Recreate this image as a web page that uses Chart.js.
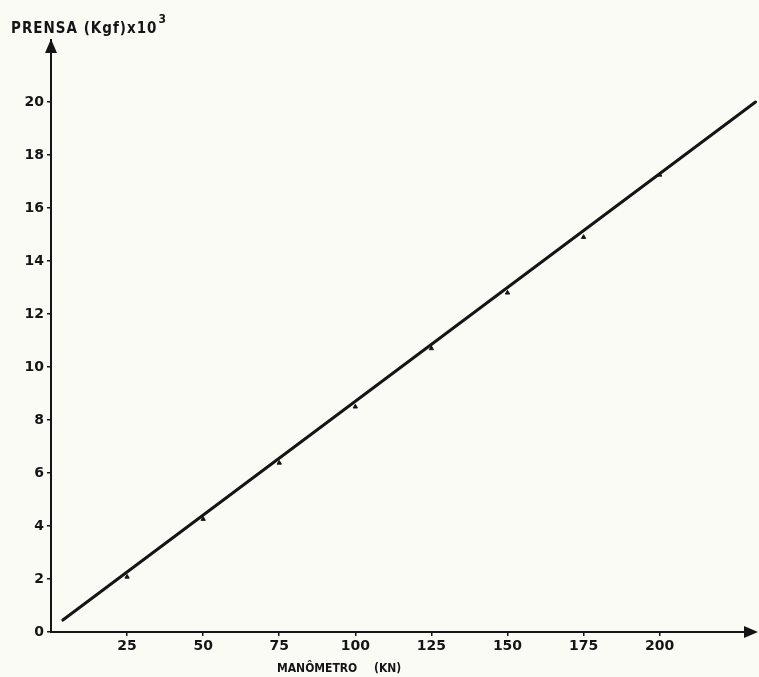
<!DOCTYPE html>
<html>
<head>
<meta charset="utf-8">
<script src="https://cdn.jsdelivr.net/npm/chart.js@4/dist/chart.umd.min.js"></script>
<style>
  html, body { margin: 0; padding: 0; background: #fbfbf6; }
  #wrap { width: 759px; height: 677px; position: relative; }
</style>
</head>
<body>
<div id="wrap"><canvas id="c" width="759" height="677"></canvas></div>
<script>
// Calibration: press reading vs. manometer reading
const xTickValues = [25, 50, 75, 100, 125, 150, 175, 200];
const yTickValues = [0, 2, 4, 6, 8, 10, 12, 14, 16, 18, 20];

// measured points (manometer kN, press kgf x 10^3)
const manometro = [25, 50, 75, 100, 125, 150, 175, 200];
const prensa    = [2.08, 4.26, 6.38, 8.5, 10.7, 12.8, 14.9, 17.25];

// fitted calibration line end points
const fitX = [3.9, 231.5];
const fitY = [0.45, 20.0];

const X_MAX = 231;
const Y_MAX = 22.34;
const INK = '#151515';
const TITLE_FAMILY = '"DejaVu Sans Condensed", "Liberation Sans Narrow", "DejaVu Sans", sans-serif';

const axisArrows = {
  id: 'axisArrows',
  afterDraw(chart) {
    const { ctx, chartArea: a } = chart;
    const tipX = chart.width - 1;
    ctx.save();
    ctx.strokeStyle = INK;
    ctx.fillStyle = INK;
    ctx.lineWidth = 2;
    // horizontal axis runs on to the arrow tip
    ctx.beginPath();
    ctx.moveTo(a.right - 1, a.bottom);
    ctx.lineTo(tipX - 6, a.bottom);
    ctx.stroke();
    ctx.beginPath();
    ctx.moveTo(tipX, a.bottom);
    ctx.lineTo(tipX - 14, a.bottom - 6);
    ctx.lineTo(tipX - 14, a.bottom + 6);
    ctx.closePath();
    ctx.fill();
    // arrow on the vertical axis
    ctx.beginPath();
    ctx.moveTo(a.left, a.top - 1);
    ctx.lineTo(a.left - 6, a.top + 13);
    ctx.lineTo(a.left + 6, a.top + 13);
    ctx.closePath();
    ctx.fill();

    // axis titles
    ctx.textBaseline = 'alphabetic';
    ctx.textAlign = 'left';
    ctx.font = 'bold 15px ' + TITLE_FAMILY;
    if ('letterSpacing' in ctx) ctx.letterSpacing = '1px';
    const t = 'PRENSA (Kgf)x10';
    ctx.fillText(t, 11, 33);
    const w = ctx.measureText(t).width;
    ctx.font = 'bold 12px ' + TITLE_FAMILY;
    ctx.fillText('3', 11 + w + 1, 23);

    ctx.font = 'bold 12px ' + TITLE_FAMILY;
    if ('letterSpacing' in ctx) ctx.letterSpacing = '0px';
    ctx.fillText('MANÔMETRO', 277, 672);
    ctx.fillText('(KN)', 374, 672);
    ctx.restore();
  }
};

new Chart(document.getElementById('c'), {
  type: 'scatter',
  data: {
    datasets: [
      {
        type: 'line',
        data: fitX.map((x, i) => ({ x, y: fitY[i] })),
        borderColor: INK,
        borderWidth: 3,
        pointRadius: 0,
        borderCapStyle: 'round',
        tension: 0,
        clip: false
      },
      {
        data: manometro.map((x, i) => ({ x, y: prensa[i] })),
        pointStyle: 'triangle',
        pointRadius: 2.5,
        backgroundColor: INK,
        borderColor: INK,
        borderWidth: 1
      }
    ]
  },
  options: {
    responsive: false,
    animation: false,
    devicePixelRatio: 1,
    layout: { padding: { top: 40, right: 0, left: 0, bottom: 0 } },
    plugins: { legend: { display: false }, tooltip: { enabled: false } },
    scales: {
      x: {
        type: 'linear',
        min: 0,
        max: X_MAX,
        afterBuildTicks(s) { s.ticks = xTickValues.map(v => ({ value: v })); },
        afterFit(s) { s.height = 45; },
        grid: { drawOnChartArea: false, drawTicks: true, tickLength: 4, color: INK, lineWidth: 1.5 },
        border: { display: true, color: INK, width: 2 },
        ticks: { color: INK, font: { family: '"DejaVu Sans", sans-serif', size: 14, weight: 'bold' }, padding: 2, maxRotation: 0, autoSkip: false }
      },
      y: {
        type: 'linear',
        min: 0,
        max: Y_MAX,
        afterBuildTicks(s) { s.ticks = yTickValues.map(v => ({ value: v })); },
        afterFit(s) { s.width = 51; },
        grid: { drawOnChartArea: false, drawTicks: true, tickLength: 4, color: INK, lineWidth: 1.5 },
        border: { display: true, color: INK, width: 2 },
        ticks: { color: INK, font: { family: '"DejaVu Sans", sans-serif', size: 14, weight: 'bold' }, padding: 3, autoSkip: false }
      }
    }
  },
  plugins: [axisArrows]
});
</script>
</body>
</html>
